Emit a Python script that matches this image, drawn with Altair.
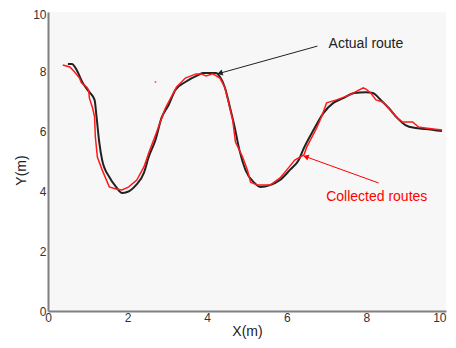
import altair as alt
import pandas as pd

# Actual route (black)
actual_x = [0.50, 0.60, 0.72, 0.87, 1.04, 1.17, 1.22, 1.29, 1.36, 1.54, 1.71, 1.86, 1.99,
            2.21, 2.41, 2.53, 2.70, 2.85, 3.03, 3.20, 3.45, 3.77, 3.90, 4.22, 4.32, 4.44,
            4.57, 4.69, 4.81, 4.96, 5.19, 5.33, 5.58, 5.83, 6.08, 6.30, 6.43, 6.67, 6.92,
            7.17, 7.42, 7.69, 7.99, 8.16, 8.36, 8.56, 8.78, 8.98, 9.23, 9.48, 9.90]
actual_y = [8.26, 8.26, 8.06, 7.63, 7.32, 7.06, 6.49, 5.62, 5.05, 4.48, 4.15, 3.95, 3.98,
            4.21, 4.62, 5.15, 5.72, 6.45, 6.89, 7.39, 7.66, 7.89, 7.96, 7.96, 7.83, 7.49,
            6.82, 6.15, 5.38, 4.72, 4.28, 4.15, 4.21, 4.38, 4.72, 5.05, 5.45, 6.05, 6.62,
            6.96, 7.12, 7.29, 7.32, 7.29, 7.06, 6.79, 6.45, 6.22, 6.12, 6.09, 6.02]

# Collected routes (red)
coll_x = [0.37, 0.55, 0.67, 0.79, 0.84, 0.97, 1.02, 1.04, 1.12, 1.17, 1.19, 1.24, 1.36,
          1.54, 1.71, 1.86, 2.03, 2.23, 2.41, 2.53, 2.73, 2.95, 3.23, 3.45, 3.72, 3.85,
          3.97, 4.14, 4.32, 4.44, 4.52, 4.64, 4.71, 4.89, 5.01, 5.09, 5.26, 5.58, 5.83,
          6.00, 6.20, 6.43, 6.50, 6.75, 6.87, 7.00, 7.25, 7.57, 7.92, 7.99, 8.11, 8.24,
          8.41, 8.56, 8.78, 8.91, 9.16, 9.31, 9.48, 9.90]
coll_y = [8.23, 8.16, 7.99, 7.79, 7.63, 7.49, 7.39, 7.12, 6.79, 6.49, 5.82, 5.15, 4.72,
          4.15, 4.08, 4.05, 4.15, 4.38, 4.82, 5.28, 5.99, 6.79, 7.49, 7.79, 7.93, 7.93,
          7.86, 7.93, 7.79, 7.49, 7.06, 6.39, 5.65, 5.15, 4.72, 4.31, 4.21, 4.21, 4.45,
          4.72, 5.05, 5.22, 5.48, 6.12, 6.49, 6.96, 7.06, 7.22, 7.46, 7.42, 7.29, 7.06,
          6.99, 6.79, 6.45, 6.32, 6.32, 6.15, 6.12, 6.05]

# stray collected point
stray_x = [2.70]
stray_y = [7.66]

# annotations
ann_text = ["Actual route", "Collected routes"]
ann_x = [7.05, 8.26]
ann_y = [8.93, 3.81]
ann_color = ["#222222", "#ff0000"]
arrow_x = [6.77, 8.31]
arrow_y = [8.86, 4.28]
arrow_x2 = [4.34, 6.50]
arrow_y2 = [7.96, 5.15]
arrow_angle = [254.6, 289.6]

ticks = [0, 2, 4, 6, 8, 10]

df_actual = pd.DataFrame({"x": actual_x, "y": actual_y, "i": range(len(actual_x))})
df_coll = pd.DataFrame({"x": coll_x, "y": coll_y, "i": range(len(coll_x))})
df_stray = pd.DataFrame({"x": stray_x, "y": stray_y})
df_arrow = pd.DataFrame({"x": arrow_x, "y": arrow_y, "x2": arrow_x2, "y2": arrow_y2,
                         "angle": arrow_angle, "c": ann_color})
df_text = pd.DataFrame({"x": ann_x, "y": ann_y, "t": ann_text, "c": ann_color})

xs = alt.Scale(domain=[0, 10], nice=False)
ys = alt.Scale(domain=[0, 10], nice=False)

xaxis = alt.Axis(title="X(m)", values=ticks, grid=False, ticks=False, labelPadding=1,
                 labelFlush=False, labelOverlap=False, domainColor="#808080", domainWidth=2,
                 labelAlign=alt.condition("datum.value == 10", alt.value("right"), alt.value("center")),
                 labelColor="#333333", labelFontSize=12, labelFont="Liberation Sans",
                 titleFont="Liberation Sans", titleFontSize=14, titleFontWeight="normal",
                 titleColor="#222222", titleY=20, titleBaseline="middle")
yaxis = alt.Axis(title="Y(m)", values=ticks, grid=False, ticks=False, labelPadding=2,
                 labelFlush=False, labelOverlap=False, domainColor="#808080", domainWidth=2,
                 labelOffset=alt.condition("datum.value == 10", alt.value(2), alt.value(0)),
                 labelColor="#333333", labelFontSize=12, labelFont="Liberation Sans",
                 titleFont="Liberation Sans", titleFontSize=14, titleFontWeight="normal",
                 titleColor="#222222", titleX=-27, titleY=158, titleBaseline="middle",
                 titleAlign="center", titleAngle=270)

base_actual = alt.Chart(df_actual).mark_line(color="#222222", strokeWidth=2,
                                             interpolate="monotone").encode(
    x=alt.X("x:Q", scale=xs, axis=xaxis),
    y=alt.Y("y:Q", scale=ys, axis=yaxis),
    order="i:O")

coll = alt.Chart(df_coll).mark_line(color="#ff1a1a", strokeWidth=1.5).encode(
    x=alt.X("x:Q", scale=xs), y=alt.Y("y:Q", scale=ys), order="i:O")

stray = alt.Chart(df_stray).mark_point(filled=True, color="#ff6060", size=4, opacity=1).encode(
    x="x:Q", y="y:Q")

arrows = alt.Chart(df_arrow).mark_rule(strokeWidth=1).encode(
    x="x:Q", y="y:Q", x2="x2:Q", y2="y2:Q",
    color=alt.Color("c:N", scale=None))

heads = alt.Chart(df_arrow).mark_point(shape="triangle", filled=True, size=40, opacity=1).encode(
    x="x2:Q", y="y2:Q", angle=alt.Angle("angle:Q", scale=None),
    color=alt.Color("c:N", scale=None))

text1 = alt.Chart(df_text.iloc[[0]]).mark_text(align="left", baseline="middle", fontSize=14,
                                               font="Liberation Sans").encode(
    x="x:Q", y="y:Q", text="t:N", color=alt.Color("c:N", scale=None))
text2 = alt.Chart(df_text.iloc[[1]]).mark_text(align="center", baseline="middle", fontSize=14,
                                               font="Liberation Sans").encode(
    x="x:Q", y="y:Q", text="t:N", color=alt.Color("c:N", scale=None))

chart = alt.layer(base_actual, coll, stray, arrows, heads, text1, text2).properties(
    width=398, height=299,
    autosize=alt.AutoSizeParams(type="none"),
    padding={"left": 40, "top": 4, "right": 2, "bottom": 28},
    background="white",
).configure_view(fill="#f7f7f7", stroke=None)

chart.save("out.html", embed_options={"renderer": "svg", "actions": False})
